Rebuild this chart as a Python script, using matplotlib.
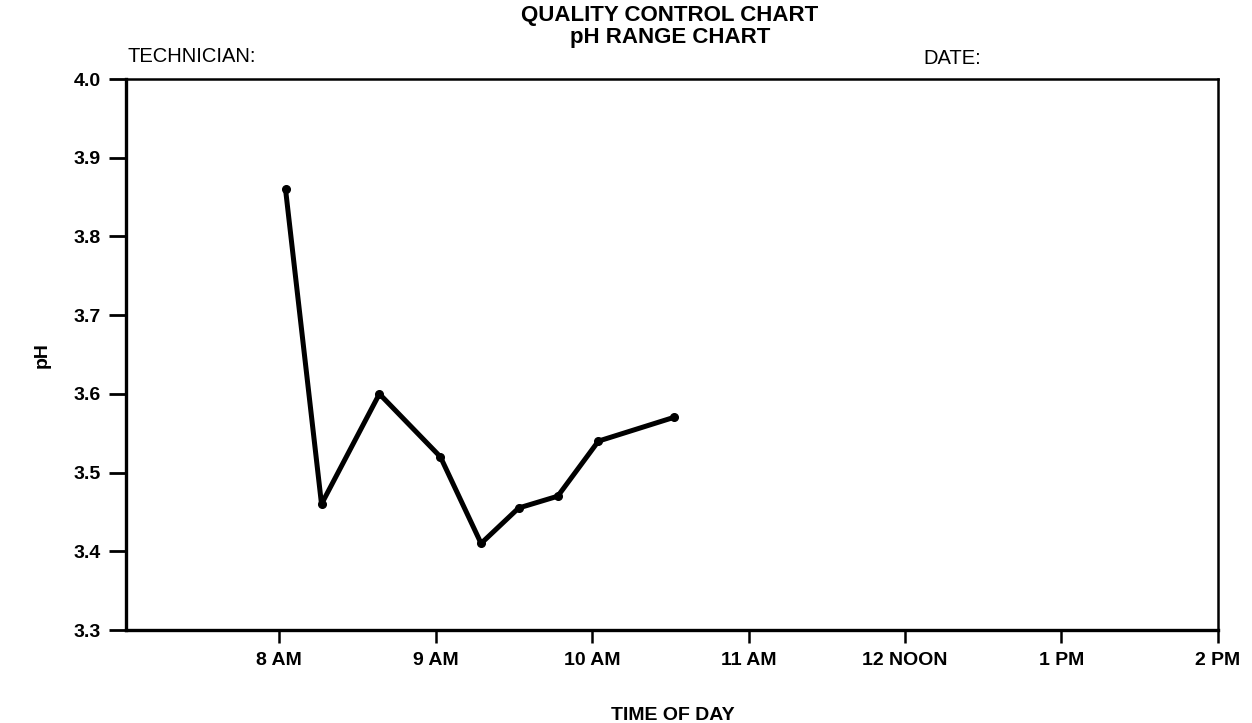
import matplotlib
matplotlib.use("Agg")
import matplotlib.pyplot as plt

# readings taken through the morning (hours, 24h clock)
times = [8.04, 8.27, 8.64, 9.03, 9.29, 9.53, 9.78, 10.04, 10.52]
ph_values = [3.86, 3.46, 3.60, 3.52, 3.41, 3.455, 3.47, 3.54, 3.57]

hour_ticks = [8, 9, 10, 11, 12, 13, 14]
hour_labels = ["8 AM", "9 AM", "10 AM", "11 AM", "12 NOON", "1 PM", "2 PM"]
ph_ticks = [3.3, 3.4, 3.5, 3.6, 3.7, 3.8, 3.9, 4.0]

plt.rcParams["font.family"] = ["Liberation Sans", "DejaVu Sans"]

W, H = 1252, 723
fig = plt.figure(figsize=(W / 100, H / 100), dpi=100)
ax = fig.add_axes([0.1006, 0.1286, 0.8722, 0.7621])

ax.plot(times, ph_values, color="black", lw=3.6, marker="o", ms=5.5,
        solid_joinstyle="round", solid_capstyle="round", zorder=3)

ax.set_xlim(7.02, 14)
ax.set_ylim(3.3, 4.0)
ax.set_xticks(hour_ticks)
ax.set_xticklabels(hour_labels, fontweight="bold", fontsize=14)
ax.set_yticks(ph_ticks)
ax.set_yticklabels([f"{v:.1f}" for v in ph_ticks], fontweight="bold", fontsize=14)

ax.tick_params(axis="y", direction="out", length=12, width=2.0, pad=6)
ax.tick_params(axis="x", direction="out", length=9, width=1.8, pad=7)

for side in ["left", "bottom"]:
    ax.spines[side].set_linewidth(2.4)
for side in ["top", "right"]:
    ax.spines[side].set_linewidth(1.8)

# labels and header placed in figure pixels
def fig_text(x, y, s, **kw):
    fig.text(x / W, 1 - y / H, s, va="center", **kw)

fig_text(673, 715, "TIME OF DAY", ha="center", fontweight="bold", fontsize=14)
fig_text(42, 355, "pH", ha="center", fontweight="bold", fontsize=14, rotation=90)

fig_text(670, 16, "QUALITY CONTROL CHART", ha="center", fontweight="bold", fontsize=16)
fig_text(670, 38, "pH RANGE CHART", ha="center", fontweight="bold", fontsize=16)
fig_text(128, 57, "TECHNICIAN:", ha="left", fontsize=14.5)
fig_text(923, 59, "DATE:", ha="left", fontsize=14.5)

fig.savefig("out.png", dpi=100, facecolor="white")
